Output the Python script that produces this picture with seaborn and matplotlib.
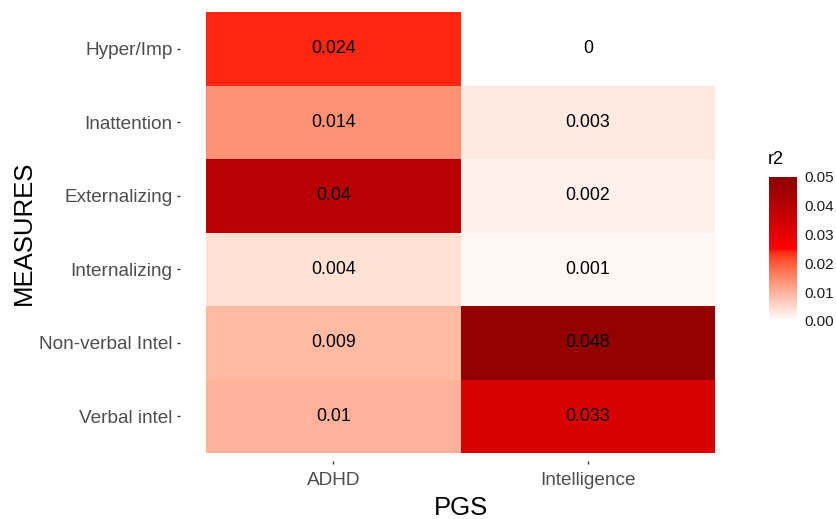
import numpy as np
import pandas as pd
import matplotlib
matplotlib.use("Agg")
import matplotlib.pyplot as plt
import seaborn as sns
from matplotlib.colors import ListedColormap

measures = ["Hyper/Imp", "Inattention", "Externalizing", "Internalizing", "Non-verbal Intel", "Verbal intel"]
pgs = ["ADHD", "Intelligence"]
adhd_r2 = [0.024, 0.014, 0.04, 0.004, 0.009, 0.01]
intel_r2 = [0, 0.003, 0.002, 0.001, 0.048, 0.033]
adhd_lbl = ["0.024", "0.014", "0.04", "0.004", "0.009", "0.01"]
intel_lbl = ["0", "0.003", "0.002", "0.001", "0.048", "0.033"]
cbar_ticks = [0, 0.01, 0.02, 0.03, 0.04, 0.05]
cbar_labels = ["0.00", "0.01", "0.02", "0.03", "0.04", "0.05"]

df = pd.DataFrame({"ADHD": adhd_r2, "Intelligence": intel_r2}, index=measures)
lbl = np.array([adhd_lbl, intel_lbl]).T

# --- Lab-space gradient (white -> red -> darkred), like ggplot's gradient2
def srgb_to_lin(c):
    c = np.asarray(c, float)
    return np.where(c <= 0.04045, c / 12.92, ((c + 0.055) / 1.055) ** 2.4)
def lin_to_srgb(c):
    c = np.clip(c, 0, 1)
    return np.where(c <= 0.0031308, 12.92 * c, 1.055 * c ** (1 / 2.4) - 0.055)
M = np.array([[0.4124, 0.3576, 0.1805], [0.2126, 0.7152, 0.0722], [0.0193, 0.1192, 0.9505]])
Minv = np.linalg.inv(M)
wp = np.array([0.95047, 1.0, 1.08883])
def f(t):
    d = 6 / 29
    return np.where(t > d ** 3, np.cbrt(t), t / (3 * d * d) + 4 / 29)
def finv(t):
    d = 6 / 29
    return np.where(t > d, t ** 3, 3 * d * d * (t - 4 / 29))
def rgb2lab(rgb):
    xyz = M @ srgb_to_lin(rgb) / wp
    fx, fy, fz = f(xyz)
    return np.array([116 * fy - 16, 500 * (fx - fy), 200 * (fy - fz)])
def lab2rgb(lab):
    L, a, b = lab
    fy = (L + 16) / 116
    fx = fy + a / 500
    fz = fy - b / 200
    xyz = np.array([finv(fx), finv(fy), finv(fz)]) * wp
    return lin_to_srgb(Minv @ xyz)

c_low = rgb2lab([1, 1, 1])
c_mid = rgb2lab([1, 0, 0])
c_high = rgb2lab([139 / 255, 0, 0])
cols = []
for t in np.linspace(0, 1, 256):
    if t <= 0.5:
        s = t / 0.5
        lab = c_low + (c_mid - c_low) * s
    else:
        s = (t - 0.5) / 0.5
        lab = c_mid + (c_high - c_mid) * s
    cols.append(lab2rgb(lab))
cmap = ListedColormap(np.clip(np.array(cols), 0, 1))

sns.set_theme(style="white")
plt.rcParams["font.family"] = ["Liberation Sans", "DejaVu Sans"]

W, H = 837, 519
fig = plt.figure(figsize=(W / 100, H / 100), dpi=100)
ax = fig.add_axes([206 / W, 1 - 453 / H, (715 - 206) / W, (453 - 12) / H])
cax = fig.add_axes([769 / W, 1 - 321 / H, 28 / W, (321 - 177) / H])

sns.heatmap(df, ax=ax, cmap=cmap, vmin=0, vmax=0.05, annot=lbl, fmt="",
            annot_kws={"color": "black", "fontsize": 12.8}, cbar_ax=cax,
            linewidths=0)

for s in ax.spines.values():
    s.set_visible(False)
ax.spines["left"].set_position(("outward", 26 * 0.72))
ax.spines["bottom"].set_position(("outward", 8 * 0.72))

ax.set_xlabel("PGS", fontsize=18.5, color="black")
ax.set_ylabel("MEASURES", fontsize=18.5, color="black")
ax.xaxis.set_label_coords(0.5, (453 - 508) / 441)
ax.xaxis.label.set_va("center")
ax.yaxis.set_label_coords((24 - 206) / 509, 0.5)
ax.yaxis.label.set_va("center")

ax.tick_params(axis="both", which="major", labelsize=13.7, labelcolor="#4D4D4D",
               color="#333333", length=2.3, width=1, bottom=True, left=True, pad=3)
ax.tick_params(axis="x", pad=5.5)
ax.set_yticklabels(measures, rotation=0)
ax.set_xticklabels(pgs, rotation=0)

cb = ax.collections[0].colorbar
cb.outline.set_visible(False)
cb.set_ticks(cbar_ticks)
cb.set_ticklabels(cbar_labels)
cax.tick_params(axis="y", which="major", direction="in", left=True, right=True,
                color="white", length=4, width=1, labelsize=11, labelcolor="#1A1A1A", pad=5.5)
fig.text(768 / W, 1 - 159 / H, "r2", fontsize=13, color="black", ha="left", va="center")

fig.savefig("out.png", dpi=100)
